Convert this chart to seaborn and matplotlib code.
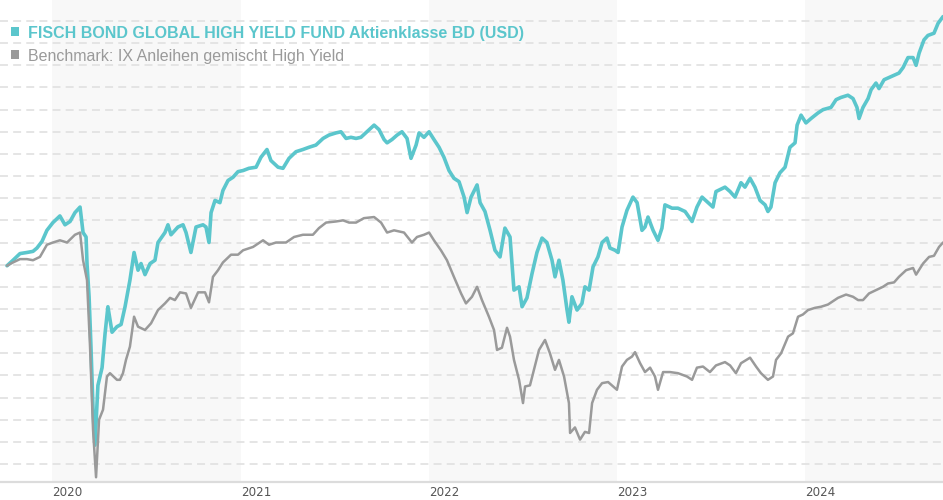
import numpy as np
import pandas as pd
import matplotlib
matplotlib.use("Agg")
import matplotlib.pyplot as plt
import matplotlib.patches as mpatches
import seaborn as sns

TEAL = "#5bc6cc"
GREY = "#9a9a9a"
BAND = "#f8f8f8"

fund_label = "FISCH BOND GLOBAL HIGH YIELD FUND Aktienklasse BD (USD)"
bench_label = "Benchmark: IX Anleihen gemischt High Yield"
year_labels = ["2020", "2021", "2022", "2023", "2024"]
shaded_years = [2020, 2022, 2024]

# indexed performance, time as decimal years
fund_years = [
    2019.761, 2019.793, 2019.830, 2019.867, 2019.899, 2019.920, 2019.947, 2019.973, 2020.005, 2020.042,
    2020.069, 2020.096, 2020.122, 2020.149, 2020.165, 2020.181, 2020.186, 2020.197, 2020.207, 2020.218,
    2020.228, 2020.244, 2020.266, 2020.282, 2020.297, 2020.319, 2020.345, 2020.367, 2020.388, 2020.414,
    2020.436, 2020.457, 2020.473, 2020.494, 2020.521, 2020.547, 2020.563, 2020.600, 2020.616, 2020.632,
    2020.669, 2020.696, 2020.712, 2020.738, 2020.765, 2020.802, 2020.818, 2020.834, 2020.845, 2020.866,
    2020.892, 2020.908, 2020.935, 2020.962, 2020.988, 2021.015, 2021.046, 2021.084, 2021.110, 2021.142,
    2021.163, 2021.201, 2021.227, 2021.259, 2021.296, 2021.333, 2021.365, 2021.402, 2021.440, 2021.471,
    2021.509, 2021.535, 2021.562, 2021.588, 2021.615, 2021.641, 2021.673, 2021.711, 2021.737, 2021.764,
    2021.780, 2021.806, 2021.833, 2021.859, 2021.886, 2021.907, 2021.934, 2021.950, 2021.976, 2022.003,
    2022.029, 2022.056, 2022.082, 2022.109, 2022.135, 2022.162, 2022.189, 2022.205, 2022.226, 2022.258,
    2022.274, 2022.300, 2022.327, 2022.353, 2022.380, 2022.406, 2022.433, 2022.454, 2022.481, 2022.497,
    2022.523, 2022.550, 2022.576, 2022.603, 2022.629, 2022.656, 2022.672, 2022.693, 2022.714, 2022.736,
    2022.746, 2022.762, 2022.789, 2022.815, 2022.831, 2022.853, 2022.874, 2022.900, 2022.922, 2022.948,
    2022.964, 2022.991, 2023.007, 2023.028, 2023.054, 2023.086, 2023.108, 2023.134, 2023.150, 2023.166,
    2023.193, 2023.219, 2023.240, 2023.256, 2023.294, 2023.325, 2023.363, 2023.400, 2023.426, 2023.453,
    2023.485, 2023.511, 2023.527, 2023.575, 2023.602, 2023.628, 2023.660, 2023.681, 2023.708, 2023.734,
    2023.761, 2023.788, 2023.803, 2023.819, 2023.841, 2023.867, 2023.894, 2023.920, 2023.947, 2023.958,
    2023.979, 2024.005, 2024.032, 2024.069, 2024.096, 2024.138, 2024.165, 2024.191, 2024.228, 2024.255,
    2024.276, 2024.287, 2024.308, 2024.335, 2024.351, 2024.377, 2024.393, 2024.420, 2024.446, 2024.473,
    2024.499, 2024.521, 2024.547, 2024.574, 2024.590, 2024.606, 2024.632, 2024.653, 2024.685, 2024.707,
    2024.733,
]
fund_values = [
    99.9, 100.4, 101.0, 101.1, 101.2, 101.5, 102.1, 103.1, 103.8, 104.4,
    103.6, 103.9, 104.7, 105.2, 102.9, 102.5, 100.1, 97.1, 92.6, 86.9,
    83.7, 89.1, 90.7, 93.8, 96.2, 93.9, 94.4, 94.6, 96.2, 98.6,
    101.1, 99.5, 100.1, 99.1, 100.1, 100.4, 102.0, 102.9, 103.6, 102.7,
    103.4, 103.6, 102.9, 101.1, 103.4, 103.6, 103.4, 102.0, 104.7, 105.8,
    105.6, 106.7, 107.6, 107.9, 108.4, 108.5, 108.7, 108.8, 109.7, 110.4,
    109.4, 108.8, 108.7, 109.6, 110.2, 110.4, 110.6, 110.8, 111.4, 111.7,
    111.9, 112.0, 111.4, 111.5, 111.4, 111.5, 112.0, 112.6, 112.2, 111.3,
    111.0, 111.3, 111.7, 112.0, 111.4, 109.6, 110.8, 111.9, 111.5, 112.0,
    111.3, 110.6, 109.7, 108.5, 107.8, 107.5, 106.1, 104.7, 106.1, 107.2,
    105.6, 104.8, 103.1, 101.3, 100.7, 103.3, 102.5, 97.7, 98.0, 96.2,
    97.0, 99.2, 101.1, 102.4, 102.0, 100.4, 98.9, 100.4, 98.6, 95.9,
    94.8, 97.1, 95.9, 96.5, 98.0, 97.7, 99.8, 100.7, 102.0, 102.4,
    101.5, 101.3, 101.1, 103.4, 104.9, 106.1, 105.6, 103.1, 103.4, 104.3,
    103.1, 102.2, 103.3, 105.4, 105.1, 105.1, 104.8, 103.9, 105.2, 106.1,
    105.6, 105.2, 106.6, 107.0, 106.6, 106.1, 107.4, 107.0, 107.8, 107.0,
    105.8, 105.4, 104.8, 105.2, 107.4, 108.3, 108.8, 110.6, 111.0, 112.6,
    113.5, 112.8, 113.2, 113.7, 114.0, 114.2, 114.9, 115.1, 115.3, 115.0,
    114.2, 113.2, 114.2, 115.0, 115.8, 116.4, 115.9, 116.7, 116.9, 117.1,
    117.3, 117.8, 118.7, 118.7, 118.0, 119.1, 120.3, 120.7, 120.9, 121.8,
    122.4,
]

bench_years = [
    2019.761, 2019.793, 2019.830, 2019.867, 2019.899, 2019.936, 2019.973, 2020.005, 2020.042, 2020.080,
    2020.122, 2020.149, 2020.165, 2020.186, 2020.202, 2020.218, 2020.234, 2020.250, 2020.271, 2020.292,
    2020.308, 2020.345, 2020.361, 2020.377, 2020.393, 2020.414, 2020.436, 2020.457, 2020.494, 2020.526,
    2020.563, 2020.600, 2020.627, 2020.653, 2020.680, 2020.712, 2020.738, 2020.776, 2020.813, 2020.834,
    2020.855, 2020.882, 2020.908, 2020.951, 2020.988, 2021.015, 2021.068, 2021.121, 2021.153, 2021.190,
    2021.243, 2021.286, 2021.333, 2021.386, 2021.418, 2021.456, 2021.509, 2021.546, 2021.578, 2021.615,
    2021.657, 2021.711, 2021.748, 2021.780, 2021.817, 2021.870, 2021.912, 2021.939, 2021.976, 2022.003,
    2022.029, 2022.066, 2022.098, 2022.135, 2022.173, 2022.199, 2022.231, 2022.258, 2022.284, 2022.321,
    2022.348, 2022.364, 2022.390, 2022.417, 2022.433, 2022.454, 2022.481, 2022.502, 2022.513, 2022.539,
    2022.560, 2022.587, 2022.619, 2022.645, 2022.672, 2022.693, 2022.720, 2022.746, 2022.752, 2022.778,
    2022.805, 2022.831, 2022.853, 2022.869, 2022.895, 2022.922, 2022.954, 2023.001, 2023.028, 2023.054,
    2023.081, 2023.097, 2023.124, 2023.150, 2023.177, 2023.203, 2023.219, 2023.246, 2023.283, 2023.325,
    2023.373, 2023.400, 2023.426, 2023.458, 2023.495, 2023.527, 2023.575, 2023.602, 2023.633, 2023.660,
    2023.708, 2023.740, 2023.766, 2023.803, 2023.830, 2023.846, 2023.873, 2023.910, 2023.936, 2023.963,
    2023.989, 2024.016, 2024.053, 2024.085, 2024.122, 2024.175, 2024.218, 2024.255, 2024.282, 2024.308,
    2024.340, 2024.377, 2024.414, 2024.441, 2024.473, 2024.499, 2024.537, 2024.574, 2024.590, 2024.627,
    2024.659, 2024.685, 2024.712, 2024.733,
]
bench_values = [
    99.9, 100.2, 100.5, 100.5, 100.4, 100.7, 101.8, 102.0, 102.2, 102.0,
    102.7, 102.9, 100.4, 98.6, 92.6, 85.1, 80.8, 86.0, 86.9, 89.9,
    90.2, 89.6, 89.6, 90.2, 91.4, 92.6, 95.3, 94.4, 94.1, 94.7,
    95.9, 96.5, 97.0, 96.8, 97.5, 97.4, 96.1, 97.5, 97.5, 96.6,
    98.9, 99.5, 100.2, 100.9, 100.9, 101.3, 101.6, 102.2, 101.8, 102.0,
    102.0, 102.5, 102.7, 102.7, 103.3, 103.8, 103.9, 104.0, 103.8, 103.8,
    104.2, 104.3, 103.8, 102.9, 103.1, 102.9, 102.0, 102.5, 102.7, 102.9,
    102.2, 101.3, 100.4, 98.9, 97.4, 96.5, 97.1, 98.0, 96.8, 95.3,
    94.1, 92.3, 92.5, 94.3, 93.5, 91.4, 89.6, 87.5, 89.0, 89.1,
    90.5, 92.3, 93.2, 92.0, 90.5, 91.4, 89.9, 87.5, 84.8, 85.3,
    84.2, 84.9, 84.8, 87.5, 88.7, 89.3, 89.4, 88.7, 90.8, 91.4,
    91.7, 92.1, 91.1, 90.3, 90.7, 89.9, 88.7, 90.3, 90.3, 90.2,
    89.9, 89.6, 90.7, 90.8, 90.3, 90.9, 91.2, 90.9, 90.2, 91.1,
    91.6, 90.8, 90.2, 89.6, 89.9, 91.4, 92.0, 93.5, 93.8, 95.3,
    95.5, 95.9, 96.1, 96.2, 96.4, 97.0, 97.3, 97.1, 96.8, 96.8,
    97.4, 97.7, 98.0, 98.3, 98.4, 98.9, 99.5, 99.7, 99.1, 100.1,
    100.7, 100.8, 101.6, 102.0,
]


def to_dates(years):
    years = np.asarray(years, dtype=float)
    return pd.Timestamp("2020-01-01") + pd.to_timedelta((years - 2020) * 365.25, unit="D")


fund = pd.DataFrame({"date": to_dates(fund_years), "value": fund_values})
bench = pd.DataFrame({"date": to_dates(bench_years), "value": bench_values})

sns.set_style("white")
plt.rcParams["font.family"] = ["Liberation Sans", "DejaVu Sans"]

fig = plt.figure(figsize=(9.43, 5.0), dpi=100)
ax = fig.add_axes([0, 18.3 / 500, 1, 481.7 / 500])

for yr in shaded_years:
    ax.axvspan(pd.Timestamp(f"{yr}-01-01"), pd.Timestamp(f"{yr + 1}-01-01"),
               color=BAND, lw=0, zorder=0)

sns.lineplot(data=fund, x="date", y="value", ax=ax, color=TEAL, lw=2.6,
             estimator=None, sort=False, zorder=3)
sns.lineplot(data=bench, x="date", y="value", ax=ax, color=GREY, lw=1.8,
             estimator=None, sort=False, zorder=4)

ax.set_ylim(80.4, 123.9)
ax.set_xlim(to_dates([2019.7238, 2024.733]))
ax.set_yticks(np.arange(82, 123, 2))
ax.yaxis.grid(True, color="#dedede", lw=1.1, linestyle=(0, (5.2, 3.4)), zorder=1)
ax.xaxis.grid(False)
ax.set_axisbelow(True)
ax.tick_params(axis="y", left=False, labelleft=False)

ax.set_xticks(pd.to_datetime([f"{y}-01-01" for y in year_labels]))
ax.set_xticklabels(year_labels, ha="left", family="DejaVu Sans")
ax.tick_params(axis="x", length=0, pad=3, labelsize=8.6, labelcolor="#555555")
ax.set_xlabel("")
ax.set_ylabel("")

sns.despine(ax=ax, left=True, top=True, right=True)
ax.spines["bottom"].set_color("#dcdcdc")
ax.spines["bottom"].set_linewidth(1.6)
ax.set_facecolor("white")

# legend at top left
for label, colour, weight, top in [(fund_label, TEAL, "bold", 27), (bench_label, GREY, "normal", 50)]:
    fig.patches.append(mpatches.Rectangle((10.7 / 943, 1 - (top + 8.5) / 500), 8 / 943, 8.5 / 500,
                                          transform=fig.transFigure, color=colour, lw=0))
    fig.text(27.5 / 943, 1 - (top + 10.8) / 500, label, color=colour, fontsize=11.5,
             fontweight=weight, va="baseline", ha="left")

fig.savefig("out.png", dpi=100)
